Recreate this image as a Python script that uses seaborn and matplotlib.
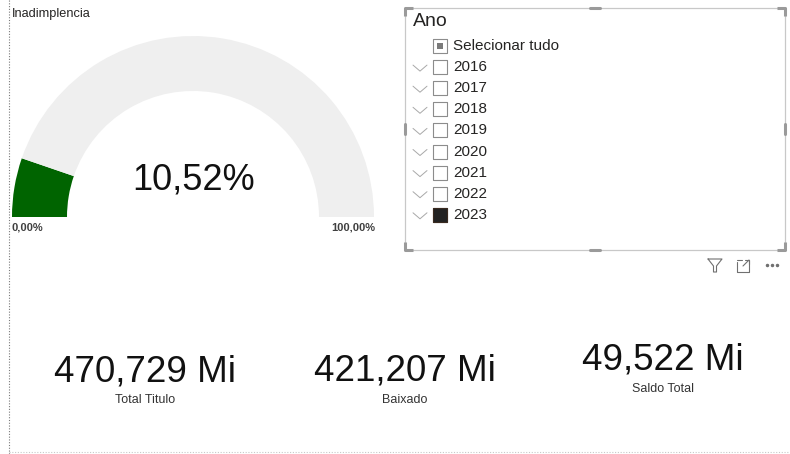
import matplotlib
matplotlib.use("Agg")
import matplotlib.pyplot as plt
import seaborn as sns
import pandas as pd
from matplotlib.patches import Rectangle

# ---------------- data ----------------
gauge_title = "Inadimplencia"
gauge_value = 10.52          # percent
gauge_min_label = "0,00%"
gauge_max_label = "100,00%"
gauge_value_label = "10,52%"

slicer_title = "Ano"
select_all_label = "Selecionar tudo"
years = ["2016", "2017", "2018", "2019", "2020", "2021", "2022", "2023"]
year_selected = [False, False, False, False, False, False, False, True]

card_values = ["470,729 Mi", "421,207 Mi", "49,522 Mi"]
card_labels = ["Total Titulo", "Baixado", "Saldo Total"]

# ---------------- figure ----------------
sns.set_theme(style="white")
plt.rcParams['font.family'] = ['Liberation Sans', 'DejaVu Sans']

W, H = 790, 454
fig = plt.figure(figsize=(W / 100, H / 100), dpi=100)
ax = fig.add_axes([0, 0, 1, 1])
ax.set_xlim(0, W)
ax.set_ylim(H, 0)
ax.axis("off")

# page guides (dotted)
ax.plot([9, 9], [0, H], ls=(0, (1, 1.5)), color="#7a7a7a", lw=0.8)
ax.plot([9, W], [452, 452], ls=(0, (1, 1.5)), color="#c8c8c8", lw=0.8)

# ---------------- gauge ----------------
ax.text(12, 14, gauge_title, fontsize=9.2, color="#252423", va="center", ha="left")
gcx, gcy, r_out, r_in = 193, 217, 181, 126
ax.pie([gauge_value, 100 - gauge_value, 100],
       colors=["#006400", "#efefef", "none"],
       startangle=180, counterclock=True,
       center=(gcx, gcy), radius=r_out, frame=True,
       wedgeprops=dict(width=r_out - r_in, linewidth=0))
ax.set_xlim(0, W)
ax.set_ylim(H, 0)
ax.axis("off")
ax.text(gcx + 1, 180, gauge_value_label, fontsize=26, color="#111111",
        ha="center", va="center")
ax.text(12, 228, gauge_min_label, fontsize=8.0, color="#404040",
        ha="left", va="center", fontweight="bold")
ax.text(375, 228, gauge_max_label, fontsize=8.0, color="#404040",
        ha="right", va="center", fontweight="bold")

# ---------------- slicer ----------------
x0, y0, x1, y1 = 405, 8, 785, 250
ax.add_patch(Rectangle((x0, y0), x1 - x0, y1 - y0, fill=False,
                       edgecolor="#c8c8c8", lw=0.9))
hc = "#9a9a9a"
# corner handles
for cx, cy, dx, dy in [(x0, y0, 1, 1), (x1, y0, -1, 1), (x0, y1, 1, -1), (x1, y1, -1, -1)]:
    ax.plot([cx + 8 * dx, cx, cx], [cy, cy, cy + 8 * dy], color=hc, lw=2.2,
            solid_capstyle="butt")
# side handles
mx, my = (x0 + x1) / 2, (y0 + y1) / 2
ax.plot([mx - 5, mx + 5], [y0, y0], color=hc, lw=2.2)
ax.plot([mx - 5, mx + 5], [y1, y1], color=hc, lw=2.2)
ax.plot([x0, x0], [my - 5, my + 5], color=hc, lw=2.2)
ax.plot([x1, x1], [my - 5, my + 5], color=hc, lw=2.2)

ax.text(413, 21, slicer_title, fontsize=14, color="#252423", ha="left", va="center")

row0, step = 46, 21.1
rows = pd.DataFrame({
    "label": [select_all_label] + years,
    "y": [row0 + i * step for i in range(len(years) + 1)],
    "selected": [False] + year_selected,
})
rows["x"] = 440

sns.scatterplot(data=rows, x="x", y="y", marker="s", s=92, color="white",
                edgecolor="#8c8c8c", linewidth=0.8, ax=ax, legend=False, zorder=3)
sel = rows[rows["selected"]]
sns.scatterplot(data=sel, x="x", y="y", marker="s", s=92, color="#222222",
                edgecolor="#3a2a20", linewidth=0.8, ax=ax, legend=False, zorder=4)
sns.scatterplot(data=rows.iloc[:1], x="x", y="y", marker="s", s=22, color="#7a7a7a",
                edgecolor="#7a7a7a", linewidth=0, ax=ax, legend=False, zorder=4)
ax.set_xlim(0, W)
ax.set_ylim(H, 0)
ax.axis("off")

for i, r in rows.iterrows():
    ax.text(453, r["y"], r["label"], fontsize=11, color="#252423",
            ha="left", va="center")
    if i > 0:
        yy = r["y"] + 1
        ax.plot([413, 420, 427], [yy - 3, yy + 3, yy - 3], color="#a8a8a8", lw=0.7)

# visual header icons
ic = "#707070"
fx, fy = 715, 265
ax.plot([fx - 7, fx + 7, fx + 1.5, fx + 1.5, fx - 1.5, fx - 1.5, fx - 7],
        [fy - 6, fy - 6, fy + 1, fy + 7, fy + 7, fy + 1, fy - 6], color=ic, lw=0.8)
ex, ey = 743, 266
ax.plot([ex - 6, ex - 6, ex + 6, ex + 6], [ey - 4, ey + 6, ey + 6, ey - 6], color=ic, lw=0.8)
ax.plot([ex - 6, ex - 1], [ey - 6, ey - 6], color=ic, lw=0.8)
ax.plot([ex, ex + 6], [ey, ey - 6], color=ic, lw=0.8)
ax.plot([ex + 2, ex + 6, ex + 6], [ey - 6, ey - 6, ey - 2], color=ic, lw=0.8)
for dx in (-5, 0, 5):
    ax.plot(772 + dx, 265, marker="o", ms=1.5, color=ic, mec=ic)

# ---------------- cards ----------------
card_x = [145, 405, 663]
card_vy = [372, 371, 360]
card_ly = [400, 400, 389]
for cx, vy, ly, v, l in zip(card_x, card_vy, card_ly, card_values, card_labels):
    ax.text(cx, vy, v, fontsize=26.5, color="#111111", ha="center", va="center")
    ax.text(cx, ly, l, fontsize=9.0, color="#333333", ha="center", va="center")

fig.savefig("out.png", dpi=100)
